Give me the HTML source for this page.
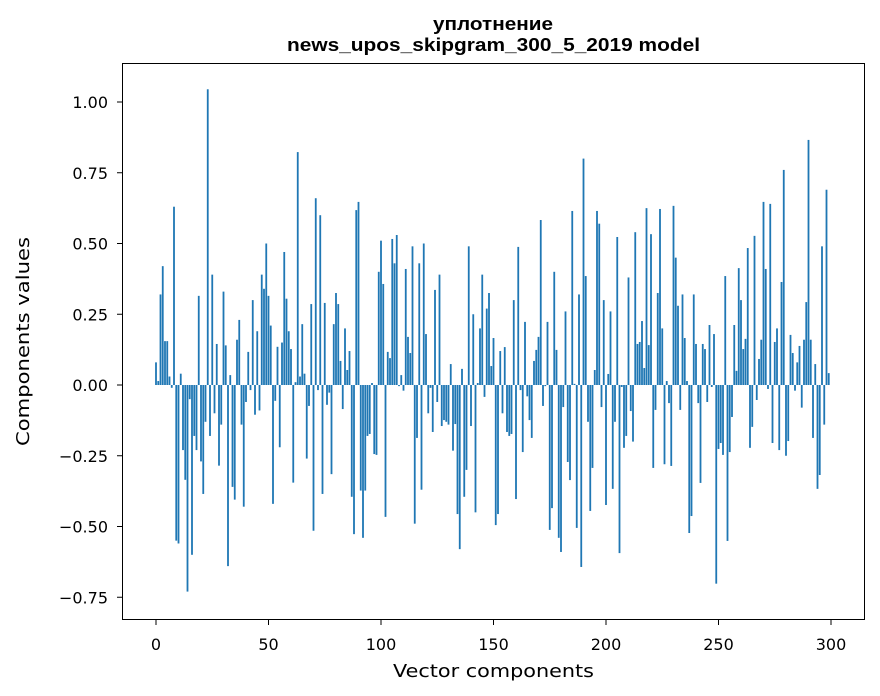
<!DOCTYPE html>
<html><head><meta charset="utf-8"><style>
html,body{margin:0;padding:0;background:#fff;}
svg{display:block;font-family:"DejaVu Sans","Liberation Sans",sans-serif;}
</style></head><body>
<svg id="s" width="880" height="696" viewBox="0 0 880 696" xmlns="http://www.w3.org/2000/svg">
<rect width="880" height="696" fill="#fff"/>
<g id="bars"></g>
<rect x="122.5" y="63.5" width="742" height="556" fill="none" stroke="#000" stroke-width="1"/>
<g stroke="#000" stroke-width="1">
<line x1="156" y1="620" x2="156" y2="625"/><line x1="268.5" y1="620" x2="268.5" y2="625"/><line x1="381" y1="620" x2="381" y2="625"/><line x1="493.5" y1="620" x2="493.5" y2="625"/><line x1="606" y1="620" x2="606" y2="625"/><line x1="718.5" y1="620" x2="718.5" y2="625"/><line x1="831" y1="620" x2="831" y2="625"/>
<line x1="117" y1="102" x2="122" y2="102"/><line x1="117" y1="172.75" x2="122" y2="172.75"/><line x1="117" y1="243.5" x2="122" y2="243.5"/><line x1="117" y1="314.25" x2="122" y2="314.25"/><line x1="117" y1="385" x2="122" y2="385"/><line x1="117" y1="455.75" x2="122" y2="455.75"/><line x1="117" y1="526.5" x2="122" y2="526.5"/><line x1="117" y1="597.25" x2="122" y2="597.25"/>
</g>
<g font-size="16" fill="#000" text-anchor="middle">
<text x="156" y="650">0</text><text x="268.5" y="650">50</text><text x="381" y="650">100</text><text x="493.5" y="650">150</text><text x="606" y="650">200</text><text x="718.5" y="650">250</text><text x="831" y="650">300</text>
</g>
<g font-size="16" fill="#000" text-anchor="end">
<text x="108" y="108">1.00</text><text x="108" y="178.75">0.75</text><text x="108" y="249.5">0.50</text><text x="108" y="320.25">0.25</text><text x="108" y="391">0.00</text><text x="108" y="461.75">−0.25</text><text x="108" y="532.5">−0.50</text><text x="108" y="603.25">−0.75</text>
</g>
<text x="393" y="677" font-size="18" textLength="201" lengthAdjust="spacingAndGlyphs">Vector components</text>
<text transform="translate(29,446) rotate(-90)" font-size="18" textLength="209" lengthAdjust="spacingAndGlyphs">Components values</text>
<text x="433" y="30" font-size="18" font-weight="bold" font-family="Liberation Sans, sans-serif" textLength="120" lengthAdjust="spacingAndGlyphs">уплотнение</text>
<text x="287" y="51" font-size="18" font-weight="bold" font-family="Liberation Sans, sans-serif" textLength="413" lengthAdjust="spacingAndGlyphs">news_upos_skipgram_300_5_2019 model</text>
</svg>
<script>
var v=[0.08,0.014,0.32,0.42,0.155,0.155,0.03,-0.01,0.63,-0.55,-0.56,0.04,-0.23,-0.335,-0.73,-0.05,-0.6,-0.18,-0.23,0.315,-0.27,-0.385,-0.13,1.045,-0.18,0.39,-0.1,0.145,-0.285,-0.14,0.33,0.14,-0.64,0.035,-0.36,-0.405,0.16,0.23,-0.14,-0.43,-0.06,0.117,-0.018,0.3,-0.105,0.19,-0.09,0.39,0.34,0.5,0.315,0.21,-0.42,-0.056,0.135,-0.22,0.15,0.47,0.305,0.19,0.127,-0.345,0.01,0.823,0.03,0.215,0.04,-0.26,-0.074,0.286,-0.515,0.66,-0.018,0.6,-0.385,
0.29,-0.07,-0.027,-0.315,0.215,0.325,0.286,0.085,-0.085,0.2,0.053,0.12,-0.395,-0.527,0.618,0.647,-0.373,-0.54,-0.373,-0.18,-0.173,0.007,-0.244,-0.247,0.4,0.51,0.357,-0.466,0.117,0.095,0.516,0.43,0.53,-0.004,0.035,-0.02,0.41,0.17,0.113,0.49,-0.49,-0.187,0.43,-0.37,0.5,0.18,-0.1,-0.01,-0.166,0.336,-0.06,0.39,-0.145,-0.124,-0.13,-0.14,0.074,-0.232,-0.138,-0.456,-0.58,0.057,-0.395,-0.3,0.49,-0.145,0.25,-0.45,0.007,0.2,0.39,-0.042,0.27,0.325,0.067,0.166,
-0.495,-0.456,0.12,-0.1,0.134,-0.166,-0.18,-0.173,0.3,-0.403,0.488,-0.018,-0.237,0.223,-0.04,-0.124,-0.187,0.085,0.124,0.17,0.583,-0.074,-0.004,0.223,-0.512,-0.435,0.4,0.124,-0.54,-0.59,-0.078,0.26,-0.272,-0.336,0.615,0.004,-0.505,0.32,-0.643,0.8,0.385,-0.13,-0.445,-0.293,0.053,0.615,0.57,-0.078,0.3,-0.424,0.039,0.26,-0.367,-0.13,0.523,-0.594,-0.007,-0.222,-0.18,0.38,-0.092,-0.2,0.54,0.145,0.152,0.226,0.06,0.625,0.141,0.533,-0.293,-0.088,0.325,0.622,0.2,
-0.28,0.014,-0.064,-0.286,0.633,0.45,0.28,-0.088,0.32,0.166,0.014,-0.523,-0.463,0.32,0.145,-0.064,-0.346,0.145,0.127,-0.06,0.212,-0.007,0.18,-0.702,-0.226,-0.205,-0.247,0.385,-0.551,-0.237,-0.113,0.212,0.05,0.413,0.3,0.127,0.163,0.484,-0.222,-0.148,0.527,-0.053,0.092,0.16,0.647,0.41,-0.014,0.64,-0.205,0.152,0.2,-0.23,0.364,0.76,-0.25,-0.198,0.177,0.113,-0.02,0.08,0.138,-0.08,0.16,0.293,0.866,0.16,-0.187,0.074,-0.367,-0.318,0.49,-0.14,0.69,0.042];
var g=document.getElementById('bars'),h='';
for(var i=0;i<v.length;i++){var x=156+2.25*i-0.9,y0=385,y1=385-v[i]*283;var t=Math.min(y0,y1),hh=Math.abs(y1-y0);
h+='<rect x="'+x.toFixed(2)+'" y="'+t.toFixed(2)+'" width="1.8" height="'+hh.toFixed(2)+'" fill="#1f77b4"/>';}
g.innerHTML=h;
</script>
</body></html>
